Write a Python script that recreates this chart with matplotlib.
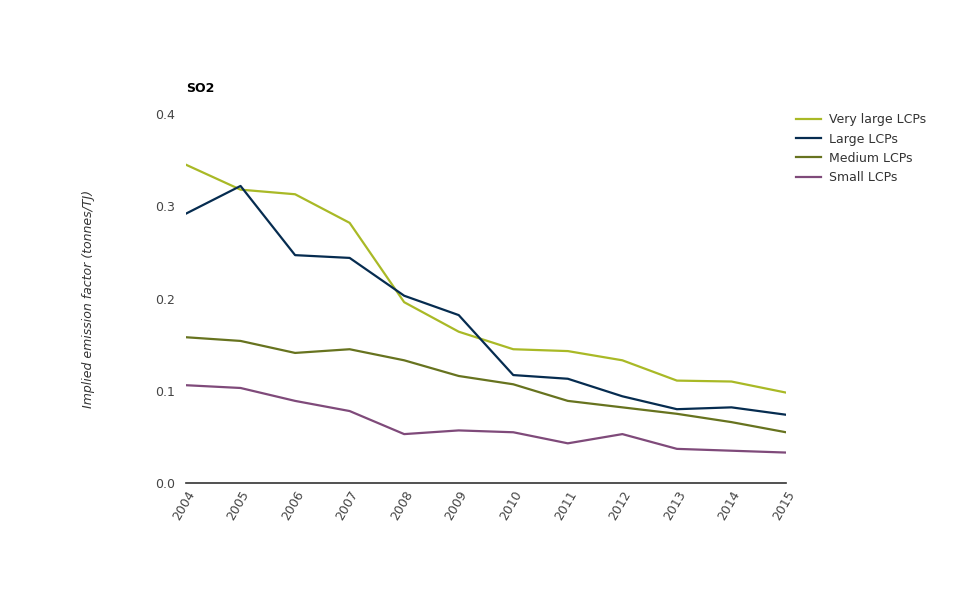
import matplotlib
matplotlib.use("Agg")
import matplotlib.pyplot as plt

years = [2004, 2005, 2006, 2007, 2008, 2009, 2010, 2011, 2012, 2013, 2014, 2015]
very_large = [0.345, 0.318, 0.313, 0.282, 0.196, 0.164, 0.145, 0.143, 0.133, 0.111, 0.110, 0.098]
large = [0.292, 0.322, 0.247, 0.244, 0.203, 0.182, 0.117, 0.113, 0.094, 0.080, 0.082, 0.074]
medium = [0.158, 0.154, 0.141, 0.145, 0.133, 0.116, 0.107, 0.089, 0.082, 0.075, 0.066, 0.055]
small = [0.106, 0.103, 0.089, 0.078, 0.053, 0.057, 0.055, 0.043, 0.053, 0.037, 0.035, 0.033]

series = [
    ("Very large LCPs", very_large, "#a9b926"),
    ("Large LCPs", large, "#062c50"),
    ("Medium LCPs", medium, "#67731f"),
    ("Small LCPs", small, "#7f4a7a"),
]

fig = plt.figure(figsize=(9.75, 6), dpi=100)
ax = fig.add_axes([186 / 975, 1 - 483 / 600, 600 / 975, (483 - 114) / 600])

for label, values, color in series:
    ax.plot(years, values, color=color, linewidth=1.6, label=label)

ax.set_xlim(2004, 2015)
ax.set_ylim(0, 0.4)
ax.set_xticks(years)
ax.set_xticklabels([str(y) for y in years], rotation=60, ha="right",
                   rotation_mode="anchor", fontsize=9, color="#444444")
ax.set_yticks([0.0, 0.1, 0.2, 0.3, 0.4])
ax.set_yticklabels(["0.0", "0.1", "0.2", "0.3", "0.4"], fontsize=9, color="#444444")
ax.tick_params(axis="both", length=0, pad=8)
ax.tick_params(axis="x", pad=4)

for side in ["top", "right", "left"]:
    ax.spines[side].set_visible(False)
ax.spines["bottom"].set_color("#333333")
ax.spines["bottom"].set_linewidth(1.2)

ax.set_ylabel("Implied emission factor (tonnes/TJ)", fontsize=9, style="italic",
              color="#333333", labelpad=0)
ax.yaxis.set_label_coords(-91 / 600, 0.5)

fig.text(186 / 975, 1 - 88 / 600, "SO2", fontsize=9, fontweight="bold",
         va="center", ha="left")

leg = ax.legend(loc="upper left", bbox_to_anchor=(785 / 975, 1 - 102 / 600),
                bbox_transform=fig.transFigure, frameon=False, fontsize=9,
                handlelength=2.0, handletextpad=0.6, labelspacing=0.5)
for t in leg.get_texts():
    t.set_color("#333333")

fig.savefig("out.png", dpi=100)
plt.close(fig)
